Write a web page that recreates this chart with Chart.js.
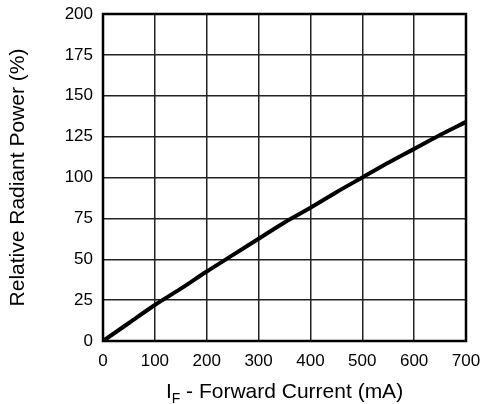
<!DOCTYPE html>
<html>
<head>
<meta charset="utf-8">
<script src="https://cdn.jsdelivr.net/npm/chart.js@4"></script>
<style>
html,body{margin:0;padding:0;background:#fff;}
#wrap{position:relative;width:482px;height:404px;}
</style>
</head>
<body>
<div id="wrap"><canvas id="c" width="482" height="404"></canvas></div>
<script>
const currentMA = [0, 50, 100, 150, 200, 250, 300, 350, 400, 450, 500, 550, 600, 650, 700];
const relativePower = [0, 11, 22, 32, 42.5, 52.5, 62.5, 72.5, 81.5, 91, 100, 109, 117.5, 126, 134];
const xTicks = [0, 100, 200, 300, 400, 500, 600, 700];
const yTicks = [0, 25, 50, 75, 100, 125, 150, 175, 200];
const yTitle = 'Relative Radiant Power (%)';
const xTitleMain = 'I';
const xTitleSub = 'F';
const xTitleRest = ' - Forward Current (mA)';

const FONT = '"Liberation Sans", Arial, Helvetica, sans-serif';

const frameAndTitles = {
  id: 'frameAndTitles',
  afterDatasetsDraw(chart) {
    const ctx = chart.ctx, a = chart.chartArea;
    ctx.save();
    ctx.strokeStyle = '#000';
    ctx.lineWidth = 2.5;
    ctx.strokeRect(a.left, a.top, a.right - a.left, a.bottom - a.top);
    ctx.fillStyle = '#000';
    ctx.textBaseline = 'alphabetic';
    const big = '21px ' + FONT, small = '14px ' + FONT;
    ctx.font = big; const w1 = ctx.measureText(xTitleMain).width;
    const w3 = ctx.measureText(xTitleRest).width;
    ctx.font = small; const w2 = ctx.measureText(xTitleSub).width;
    const total = w1 + w2 + w3;
    let x = (a.left + a.right) / 2 - total / 2;
    const base = 398;
    ctx.textAlign = 'left';
    ctx.font = big; ctx.fillText(xTitleMain, x, base); x += w1;
    ctx.font = small; ctx.fillText(xTitleSub, x, base + 5); x += w2;
    ctx.font = big; ctx.fillText(xTitleRest, x, base);
    ctx.translate(18, (a.top + a.bottom) / 2);
    ctx.rotate(-Math.PI / 2);
    ctx.textAlign = 'center';
    ctx.textBaseline = 'middle';
    ctx.font = big;
    ctx.fillText(yTitle, 0, 0);
    ctx.restore();
  }
};

new Chart(document.getElementById('c'), {
  type: 'line',
  data: {
    datasets: [{
      data: currentMA.map((v, i) => ({x: v, y: relativePower[i]})),
      borderColor: '#000',
      borderWidth: 4,
      pointRadius: 0,
      cubicInterpolationMode: 'monotone',
      fill: false
    }]
  },
  options: {
    responsive: false,
    animation: false,
    devicePixelRatio: 1,
    layout: {padding: {top: 14, right: 16, bottom: 0, left: 0}},
    plugins: {legend: {display: false}, tooltip: {enabled: false}},
    scales: {
      x: {
        type: 'linear', min: 0, max: 700,
        afterBuildTicks: s => { s.ticks = xTicks.map(v => ({value: v})); },
        afterFit: s => { s.height = 63; s.paddingLeft = 0; s.paddingRight = 0; },
        grid: {color: '#222', lineWidth: 1.5, drawTicks: false},
        border: {display: false},
        ticks: {color: '#000', padding: 10, font: {family: FONT, size: 17}, maxRotation: 0}
      },
      y: {
        min: 0, max: 200,
        afterBuildTicks: s => { s.ticks = yTicks.map(v => ({value: v})); },
        afterFit: s => { s.width = 103; s.paddingTop = 0; s.paddingBottom = 0; },
        grid: {color: '#222', lineWidth: 1.5, drawTicks: false},
        border: {display: false},
        ticks: {color: '#000', padding: 10, font: {family: FONT, size: 17}}
      }
    }
  },
  plugins: [frameAndTitles]
});
</script>
</body>
</html>
